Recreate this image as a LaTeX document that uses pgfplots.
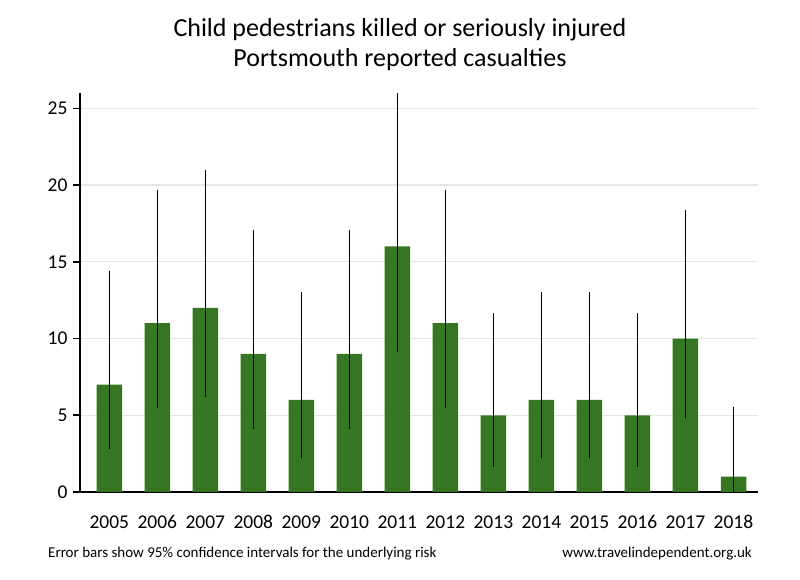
\documentclass[border=0pt]{standalone}
\usepackage{fontspec}
\setmainfont{Carlito}
\usepackage{pgfplots}
\usepackage{pgfplotstable}
\pgfplotsset{compat=1.18}

\definecolor{bargreen}{RGB}{54,117,34}
\definecolor{gridgray}{RGB}{230,230,230}

% year, casualties, error above, error below (95% CI)
\pgfplotstableread{
year  n   eplus  eminus
2005  7   7.42   4.19
2006  11  8.68   5.51
2007  12  8.96   5.80
2008  9   8.08   4.88
2009  6   7.06   3.80
2010  9   8.08   4.88
2011  16  9.98   6.85
2012  11  8.68   5.51
2013  5   6.67   3.38
2014  6   7.06   3.80
2015  6   7.06   3.80
2016  5   6.67   3.38
2017  10  8.39   5.20
2018  1   4.57   0.97
}\casualties

\begin{document}
\begin{tikzpicture}
\path[use as bounding box] (-80pt,-88pt) rectangle (720pt,492pt);
\begin{axis}[
  at={(0pt,0pt)}, anchor=south west,
  scale only axis,
  width=677.5pt, height=399pt,
  xmin=2004.39, xmax=2018.5,
  ymin=0, ymax=26,
  axis lines*=left,
  axis line style={line width=1.6pt, black},
  ybar, bar width=25.5pt,
  xtick={2005,...,2018},
  ytick={0,5,...,25},
  x tick style={draw=none},
  y tick style={line width=1.6pt, black},
  tick align=outside,
  major tick length=7pt,
  ymajorgrids,
  grid style={line width=1.3pt, gridgray},
  /pgf/number format/assume math mode=true,
  /pgf/number format/1000 sep={},
  tick label style={font=\fontsize{19.5}{23}\selectfont},
  xticklabel style={text height=13pt, text depth=0pt, yshift=-13pt},
  yticklabel style={xshift=-2pt},
]
\addplot[fill=bargreen, draw=none,
  error bars/.cd, y dir=both, y explicit, error mark=none,
  error bar style={line width=1pt, black}]
  table[x=year, y=n, y error plus=eplus, y error minus=eminus] {\casualties};
\end{axis}
\node[anchor=base, font=\fontsize{26}{31}\selectfont] at (320pt,455pt) {Child pedestrians killed or seriously injured};
\node[anchor=base, font=\fontsize{26}{31}\selectfont] at (320pt,425pt) {Portsmouth reported casualties};
\node[anchor=base west, inner sep=0pt, font=\fontsize{15}{18}\selectfont] at (-32pt,-66pt) {Error bars show 95\% confidence intervals for the underlying risk};
\node[anchor=base east, inner sep=0pt, font=\fontsize{15}{18}\selectfont] at (672pt,-66pt) {www.travelindependent.org.uk};
\end{tikzpicture}
\end{document}
